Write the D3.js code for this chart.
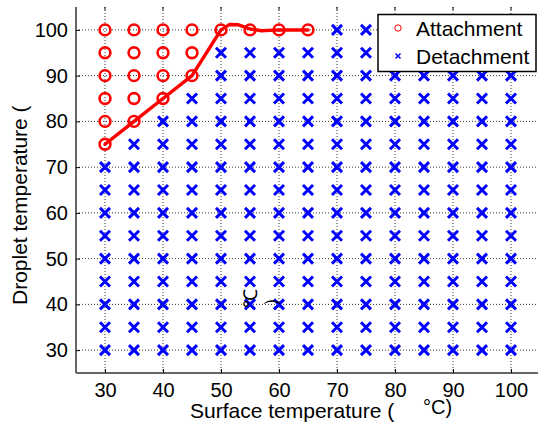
<!DOCTYPE html>
<html>
<head>
<meta charset="utf-8">
<script src="https://cdn.jsdelivr.net/npm/d3@7"></script>
<style>
  body { margin: 0; background: #fff; }
  text { font-family: "Liberation Sans", Arial, sans-serif; fill: #000; }
</style>
</head>
<body>
<div id="chart"></div>
<script>
// grid of tested conditions
var surfaceTemps = [30, 35, 40, 45, 50, 55, 60, 65, 70, 75, 80, 85, 90, 95, 100];
var dropletLevels = [30, 35, 40, 45, 50, 55, 60, 65, 70, 75, 80, 85, 90, 95, 100];
// lowest droplet temperature that still attaches, per surface temperature (null = none)
var attachFrom = [75, 80, 85, 90, 100, 100, 100, 100, null, null, null, null, null, null, null];
// boundary line (surface, droplet)
var boundaryX = [30, 35, 40, 45, 50, 51.5, 53, 55, 57, 60, 65];
var boundaryY = [75, 80, 85, 90, 100, 101.2, 101.1, 100.2, 99.8, 100, 100];
var xTicks = [30, 40, 50, 60, 70, 80, 90, 100];
var yTicks = [30, 40, 50, 60, 70, 80, 90, 100];

var W = 538, H = 425;
var mLeft = 76, mRight = 540, mTop = 7, mBottom = 373;

var svg = d3.select("#chart").append("svg")
    .attr("width", W).attr("height", H);

var x = d3.scaleLinear().domain([25, 105]).range([mLeft, mRight]);
var y = d3.scaleLinear().domain([25, 105]).range([mBottom, mTop]);

var attach = [], detach = [];
surfaceTemps.forEach(function(s, i){
    dropletLevels.forEach(function(d){
        if (attachFrom[i] !== null && d >= attachFrom[i]) attach.push([s, d]);
        else detach.push([s, d]);
    });
});

// dotted grid
var g = svg.append("g");
g.selectAll(".gx").data(xTicks).enter().append("line")
    .attr("x1", function(d){ return x(d); }).attr("x2", function(d){ return x(d); })
    .attr("y1", mTop).attr("y2", mBottom)
    .attr("stroke", "#000").attr("stroke-width", 0.8).attr("stroke-dasharray", "1 2");
g.selectAll(".gy").data(yTicks).enter().append("line")
    .attr("x1", mLeft).attr("x2", mRight)
    .attr("y1", function(d){ return y(d); }).attr("y2", function(d){ return y(d); })
    .attr("stroke", "#000").attr("stroke-width", 0.8).attr("stroke-dasharray", "1 2");

// axes
var xAxis = d3.axisBottom(x).tickValues(xTicks).tickSize(-4).tickPadding(10);
var yAxis = d3.axisLeft(y).tickValues(yTicks).tickSize(-4).tickPadding(8);
var ax = svg.append("g").attr("transform", "translate(0," + mBottom + ")").call(xAxis);
var ay = svg.append("g").attr("transform", "translate(" + mLeft + ",0)").call(yAxis);
[ax, ay].forEach(function(a){
    a.select(".domain").attr("stroke", "#666").attr("stroke-width", 2);
    a.selectAll(".tick line").attr("stroke", "#000");
    a.selectAll("text").attr("font-size", 20).attr("font-family", "Liberation Sans, Arial, sans-serif").attr("fill", "#000");
});
ax.select(".domain").attr("d", "M" + mLeft + ",0H" + mRight);
ay.select(".domain").attr("d", "M0," + mBottom + "V" + mTop);
// top ticks
svg.append("g").selectAll("line").data(xTicks).enter().append("line")
    .attr("x1", function(d){ return x(d); }).attr("x2", function(d){ return x(d); })
    .attr("y1", mTop).attr("y2", mTop + 3).attr("stroke", "#000").attr("stroke-width", 1);

// detachment markers
var cross = 5;
svg.append("g").selectAll("path").data(detach).enter().append("path")
    .attr("d", function(d){
        var cx = x(d[0]), cy = y(d[1]);
        return "M" + (cx - cross) + "," + (cy - cross) + "L" + (cx + cross) + "," + (cy + cross) +
               "M" + (cx - cross) + "," + (cy + cross) + "L" + (cx + cross) + "," + (cy - cross);
    })
    .attr("stroke", "#0000ff").attr("stroke-width", 3).attr("fill", "none");

// boundary line
var line = d3.line()
    .x(function(d){ return x(d[0]); }).y(function(d){ return y(d[1]); });
svg.append("path").datum(d3.zip(boundaryX, boundaryY))
    .attr("d", line).attr("stroke", "#ff0000").attr("stroke-width", 3.5)
    .attr("fill", "none").attr("stroke-linejoin", "round").attr("stroke-linecap", "round");

// attachment markers
svg.append("g").selectAll("circle").data(attach).enter().append("circle")
    .attr("cx", function(d){ return x(d[0]); }).attr("cy", function(d){ return y(d[1]); })
    .attr("r", 5.4).attr("fill", "none").attr("stroke", "#ff0000").attr("stroke-width", 2.6);

// legend
var lg = svg.append("g");
lg.append("rect").attr("x", 378).attr("y", 14.5).attr("width", 158).attr("height", 57)
    .attr("fill", "#fff").attr("stroke", "#000").attr("stroke-width", 1.5);
lg.append("circle").attr("cx", 398).attr("cy", 28).attr("r", 3.2)
    .attr("fill", "none").attr("stroke", "#ff0000").attr("stroke-width", 1);
lg.append("path").attr("d", "M395.5,53.5L400.5,58.5M395.5,58.5L400.5,53.5")
    .attr("stroke", "#0000ff").attr("stroke-width", 1.5);
lg.append("text").attr("x", 416).attr("y", 35.5).attr("font-size", 21).text("Attachment");
lg.append("text").attr("x", 416).attr("y", 63.5).attr("font-size", 21).text("Detachment");

// axis labels
svg.append("text").attr("x", 190).attr("y", 418).attr("font-size", 21).text("Surface temperature (");
svg.append("text").attr("x", 423).attr("y", 414).attr("font-size", 20).text("°C)");
svg.append("text").attr("transform", "translate(27,305) rotate(-90)")
    .attr("font-size", 21).text("Droplet temperature (");
// stray rotated unit glyphs
svg.append("text").attr("transform", "translate(257,308) rotate(-90)")
    .attr("font-family", "Noto Sans CJK SC").attr("font-size", 19).text("℃");
svg.append("text").attr("transform", "translate(277,307) rotate(-90)")
    .attr("font-family", "Noto Sans CJK SC").attr("font-size", 19).text("）");
</script>
</body>
</html>
